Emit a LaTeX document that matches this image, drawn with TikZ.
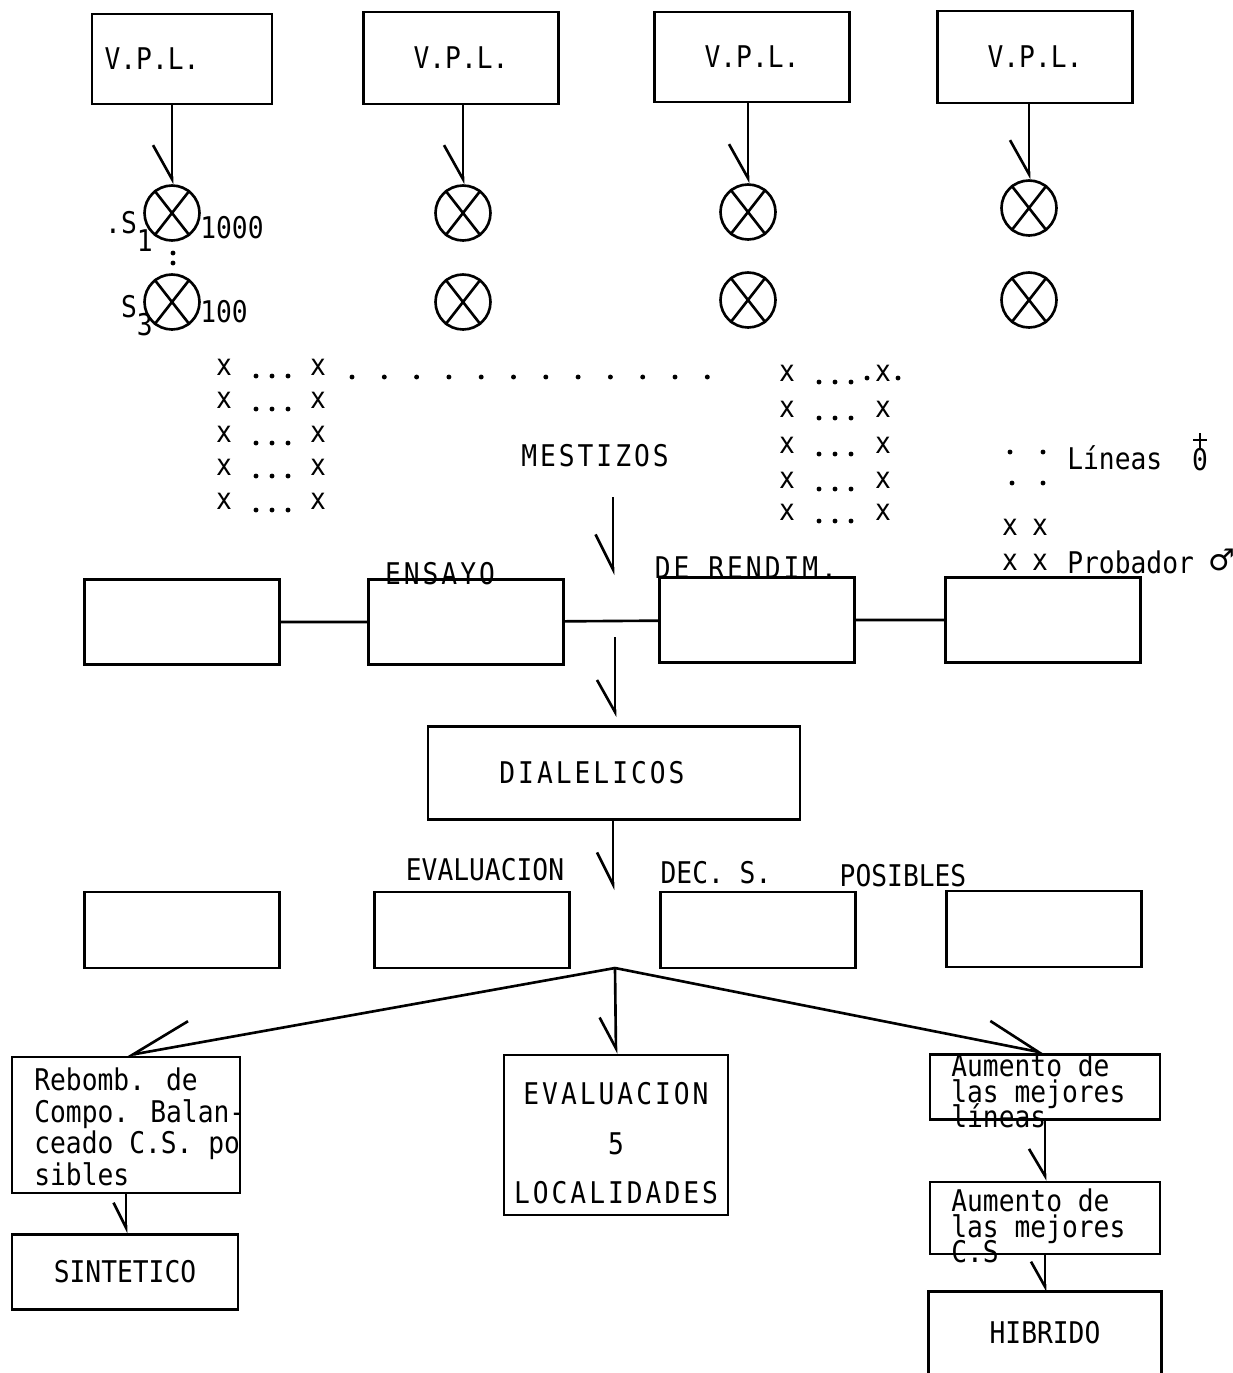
\documentclass[tikz,border=0pt]{standalone}
\usepackage{fontspec}
\setmainfont[FakeStretch=0.88]{DejaVu Sans Mono}
\newfontfamily\spacedfont[FakeStretch=0.88,LetterSpace=10]{DejaVu Sans Mono}
\newfontfamily\symfont{DejaVu Sans}
\usetikzlibrary{arrows.meta,positioning}

\begin{document}
\begin{tikzpicture}[x=0.02cm,y=-0.02cm,line width=1.5pt,
  font=\fontsize{17}{20}\selectfont,
  box/.style={draw,rectangle,minimum width=3.9cm,minimum height=1.52cm,inner sep=0pt},
  xcirc/.style={draw,circle,minimum size=1.1cm,inner sep=0pt},
  barb/.style 2 args={-{Straight Barb[harpoon,swap,length=#1,width=#2]}},
  barbr/.style 2 args={-{Straight Barb[harpoon,length=#1,width=#2]}},
  spaced/.style={font=\fontsize{17}{20}\spacedfont}]
\useasboundingbox (0,0) rectangle (1233,1373);
\node[box,minimum width=3.6cm,minimum height=1.8cm] (vpl1) at (182,59) {V.P.L.\hspace*{1.2cm}};
\node[box,minimum height=1.84cm] (vpl2) at (461,58) {V.P.L.};
\node[box,minimum height=1.8cm] (vpl3) at (752,57) {V.P.L.};
\node[box,minimum height=1.84cm] (vpl4) at (1035,57) {V.P.L.};
\foreach \n/\x/\ya/\yb in {1/172/213/302,2/463/213/302,3/748/212/300,4/1029/208/300} {
  \node[xcirc] (ca\n) at (\x,\ya) {};
  \node[xcirc] (cb\n) at (\x,\yb) {};
  \draw (ca\n.128) -- (ca\n.308) (ca\n.52) -- (ca\n.232);
  \draw (cb\n.128) -- (cb\n.308) (cb\n.52) -- (cb\n.232);
  \draw[barb={0.68cm}{0.76cm}] (vpl\n.south -| ca\n.north) -- (ca\n.north);
}
\node[anchor=east,inner sep=0pt] (s1) at (154,231) {.S\raisebox{-0.6em}{1}};
\node[anchor=west,inner sep=0pt] (n1000) at (199,228) {1000};
\node[anchor=east,inner sep=0pt] (s3) at (154,316) {S\raisebox{-0.6em}{3}};
\node[anchor=west,inner sep=0pt] (n100) at (199,312) {100};
\fill (173,253) circle (1.4pt) (173,263) circle (1.4pt);
\foreach \y [count=\i] in {367,400,434,467,501} {
  \node (xa\i) at (224,\y) {x};
  \node (xb\i) at (318,\y) {x};
  \foreach \d in {256,272,288} \fill (\d,\y+9) circle (1.4pt);
}
\foreach \d in {0,...,11} \fill (352+32.3*\d,377) circle (1.4pt);
\foreach \y [count=\i] in {373,409,445,480,512} {
  \node (xc\i) at (787,\y) {x};
  \node (xd\i) at (883,\y) {x};
  \foreach \d in {819,835,851} \fill (\d,\y+9) circle (1.4pt);
}
\fill (867,378) circle (1.4pt) (898,378) circle (1.4pt);
\fill (1010,452) circle (1.4pt) (1043,452) circle (1.4pt);
\fill (1012,483) circle (1.4pt) (1043,483) circle (1.4pt);
\node[anchor=west,inner sep=0pt] (lineas) at (1066,458) {Líneas};
\node (fem) at (1200,460) {0};
\draw[line width=1.2pt] (1200,433) -- (1200,449) (1193,440) -- (1207,440);
\node (xp1) at (1010,527) {x};
\node (xp2) at (1040,527) {x};
\node (xp3) at (1010,562) {x};
\node (xp4) at (1040,562) {x};
\node[anchor=west,inner sep=0pt] (probador) at (1066,562) {Probador};
\node (male) at (1222,560) {{\symfont ♂}};
\node[spaced] (mest) at (595,456) {MESTIZOS};
\coordinate (m1) at (613,497);
\coordinate (m2) at (613,575);
\draw[barb={0.7cm}{0.7cm}] (m1) -- (m2);
\node[box,minimum height=1.7cm] (ens1) at (182,622) {};
\node[box,minimum height=1.7cm] (ens2) at (466,622) {};
\node[box,minimum height=1.7cm] (ens3) at (757,620) {};
\node[box,minimum height=1.7cm] (ens4) at (1043,620) {};
\draw (ens1) -- (ens2) (ens2) -- (ens3) (ens3) -- (ens4);
\node[spaced,anchor=base,inner sep=0pt] (ensayo) at (440,584) {ENSAYO};
\node[spaced,anchor=base,inner sep=0pt] (rendim) at (746,578) {DE RENDIM.};
\coordinate (d1) at (615,637);
\coordinate (d2) at (615,717);
\draw[barb={0.64cm}{0.72cm}] (d1) -- (d2);
\node[box,spaced,minimum width=7.44cm,minimum height=1.86cm] (dial) at (614,773) {DIALELICOS\hspace*{0.88cm}};
\coordinate (e1) at (613,890);
\draw[barb={0.64cm}{0.64cm}] (dial.south -| e1) -- (e1);
\node (evlab) at (485,870) {EVALUACION};
\node (dec) at (716,873) {DEC. S.};
\node (posib) at (903,876) {POSIBLES};
\node[box] (ev1) at (182,930) {};
\node[box] (ev2) at (472,930) {};
\node[box] (ev3) at (758,930) {};
\node[box] (ev4) at (1044,929) {};
\coordinate (fork) at (615,968);
\node[box,minimum width=4.56cm,minimum height=2.72cm] (reb) at (126,1125) {};
\node[anchor=north west,align=left,inner sep=0pt,font=\fontsize{17}{18.2}\selectfont] (rebtxt) at (33,1066) {Rebomb. de\\Compo. Balan-\\ceado C.S. po\\sibles};
\node[box,minimum width=4.52cm,minimum height=1.5cm] (sint) at (125,1272) {SINTETICO};
\draw[barb={0.5cm}{0.5cm}] (reb.south) -- (reb.south |- sint.north);
\node[box,minimum width=4.48cm,minimum height=3.2cm,align=center,font=\fontsize{17}{28.3}\spacedfont] (loc) at (616,1135) {\rule{0pt}{22pt}EVALUACION\\5\\LOCALIDADES};
\node[box,minimum width=4.6cm,minimum height=1.3cm] (aum1) at (1045,1087) {};
\node[anchor=west,align=left,inner sep=0pt,font={\fontsize{17}{14.4}\selectfont\lineskiplimit=-50pt}] (aum1txt) at (950,1091) {Aumento de\\las mejores\\líneas};
\node[box,minimum width=4.6cm,minimum height=1.44cm] (aum2) at (1045,1218) {};
\node[anchor=west,align=left,inner sep=0pt,font={\fontsize{17}{14.4}\selectfont\lineskiplimit=-50pt}] (aum2txt) at (950,1226) {Aumento de\\las mejores\\C.S};
\node[minimum width=4.6cm,minimum height=1.6cm,inner sep=0pt] (hib) at (1045,1333) {HIBRIDO};
\draw (hib.south west) -- (hib.north west) -- (hib.north east) -- (hib.south east);
\draw[barb={0.54cm}{0.64cm}] (aum1.south) -- (aum2.north);
\draw[barb={0.5cm}{0.56cm}] (aum2.south) -- (hib.north);
\draw[barb={1.2cm}{0.92cm}] (fork) -- (reb.north);
\draw[barb={0.62cm}{0.64cm}] (fork) -- (loc.north);
\draw[barbr={1.06cm}{0.84cm}] (fork) -- (aum1.north);
\end{tikzpicture}
\end{document}
